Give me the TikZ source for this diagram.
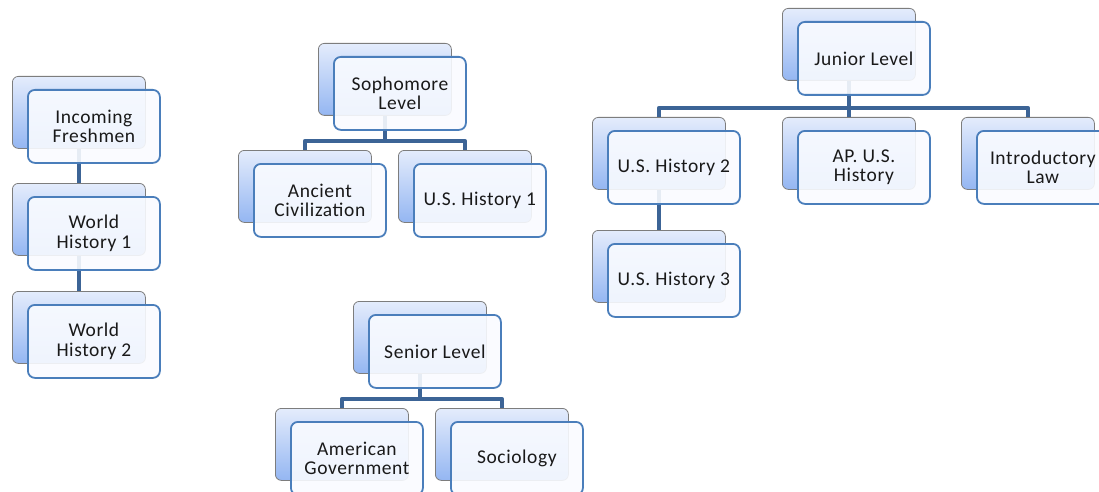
\documentclass[tikz,border=0pt]{standalone}
\usepackage{fontspec}
\setmainfont[LetterSpace=3]{Carlito}
\definecolor{frontline}{RGB}{74,126,187}
\definecolor{frontfill}{RGB}{249,251,255}
\definecolor{backline}{RGB}{125,125,125}
\definecolor{backtop}{RGB}{228,236,252}
\definecolor{backbot}{RGB}{148,182,242}
\definecolor{connc}{RGB}{60,100,150}
\definecolor{txt}{RGB}{25,25,25}
\tikzset{
  backbox/.style={draw=backline, line width=0.8pt, rounded corners=6pt,
    top color=backtop, bottom color=backbot,
    minimum width=133pt, minimum height=72pt, inner sep=0pt, anchor=north west},
  frontbox/.style={draw=frontline, line width=1.8pt, rounded corners=7pt,
    fill=frontfill, fill opacity=0.9, text opacity=1, text=txt,
    minimum width=132pt, minimum height=73pt, inner sep=0pt, anchor=north west,
    align=center, font=\fontsize{19.5pt}{19.5pt}\selectfont},
  conn/.style={draw=connc, line width=4pt, line join=round}
}
\newcommand\backat[3]{\node[backbox] (#1B) at (#2,#3) {};}
\newcommand\frontat[4]{\node[frontbox] (#1) at (#2+15,#3+13) {#4};}
\begin{document}
\begin{tikzpicture}[x=1pt,y=-1pt]
\useasboundingbox (0,0) rectangle (1099,492);
% back boxes
\backat{fresh}{12}{76}
\backat{wha}{12}{183}
\backat{whb}{12}{291}
\backat{soph}{318}{43}
\backat{anc}{238}{150}
\backat{usa}{398}{150}
\backat{jun}{782}{8}
\backat{usb}{592}{117}
\backat{ap}{782}{117}
\backat{law}{961}{117}
\backat{usc}{592}{230}
\backat{sen}{353}{301}
\backat{amg}{275}{408}
\backat{soc}{435}{408}
% connectors
\draw[conn] (freshB.south) -- (whaB.north);
\draw[conn] (whaB.south) -- (whbB.north);
\draw[conn] (sophB.south) -- ++(0,25) -| (ancB.north);
\draw[conn] (sophB.south) -- ++(0,25) -| (usaB.north);
\draw[conn] (junB.south) -- ++(0,27) -| (usbB.north);
\draw[conn] (junB.south) -- (apB.north);
\draw[conn] (junB.south) -- ++(0,27) -| (lawB.north);
\draw[conn] (usbB.south) -- (uscB.north);
\draw[conn] (senB.south) -- ++(0,25) -| (amgB.north);
\draw[conn] (senB.south) -- ++(0,25) -| (socB.north);
% front boxes
\frontat{fresh}{12}{76}{Incoming\\Freshmen}
\frontat{wha}{12}{183}{World\\History 1}
\frontat{whb}{12}{291}{World\\History 2}
\frontat{soph}{318}{43}{Sophomore\\Level}
\frontat{anc}{238}{150}{Ancient\\Civilization}
\frontat{usa}{398}{150}{U.S. History 1}
\frontat{jun}{782}{8}{Junior Level}
\frontat{usb}{592}{117}{U.S. History 2}
\frontat{ap}{782}{117}{AP. U.S.\\History}
\frontat{law}{961}{117}{Introductory\\Law}
\frontat{usc}{592}{230}{U.S. History 3}
\frontat{sen}{353}{301}{Senior Level}
\frontat{amg}{275}{408}{American\\Government}
\frontat{soc}{435}{408}{Sociology}
\end{tikzpicture}
\end{document}
